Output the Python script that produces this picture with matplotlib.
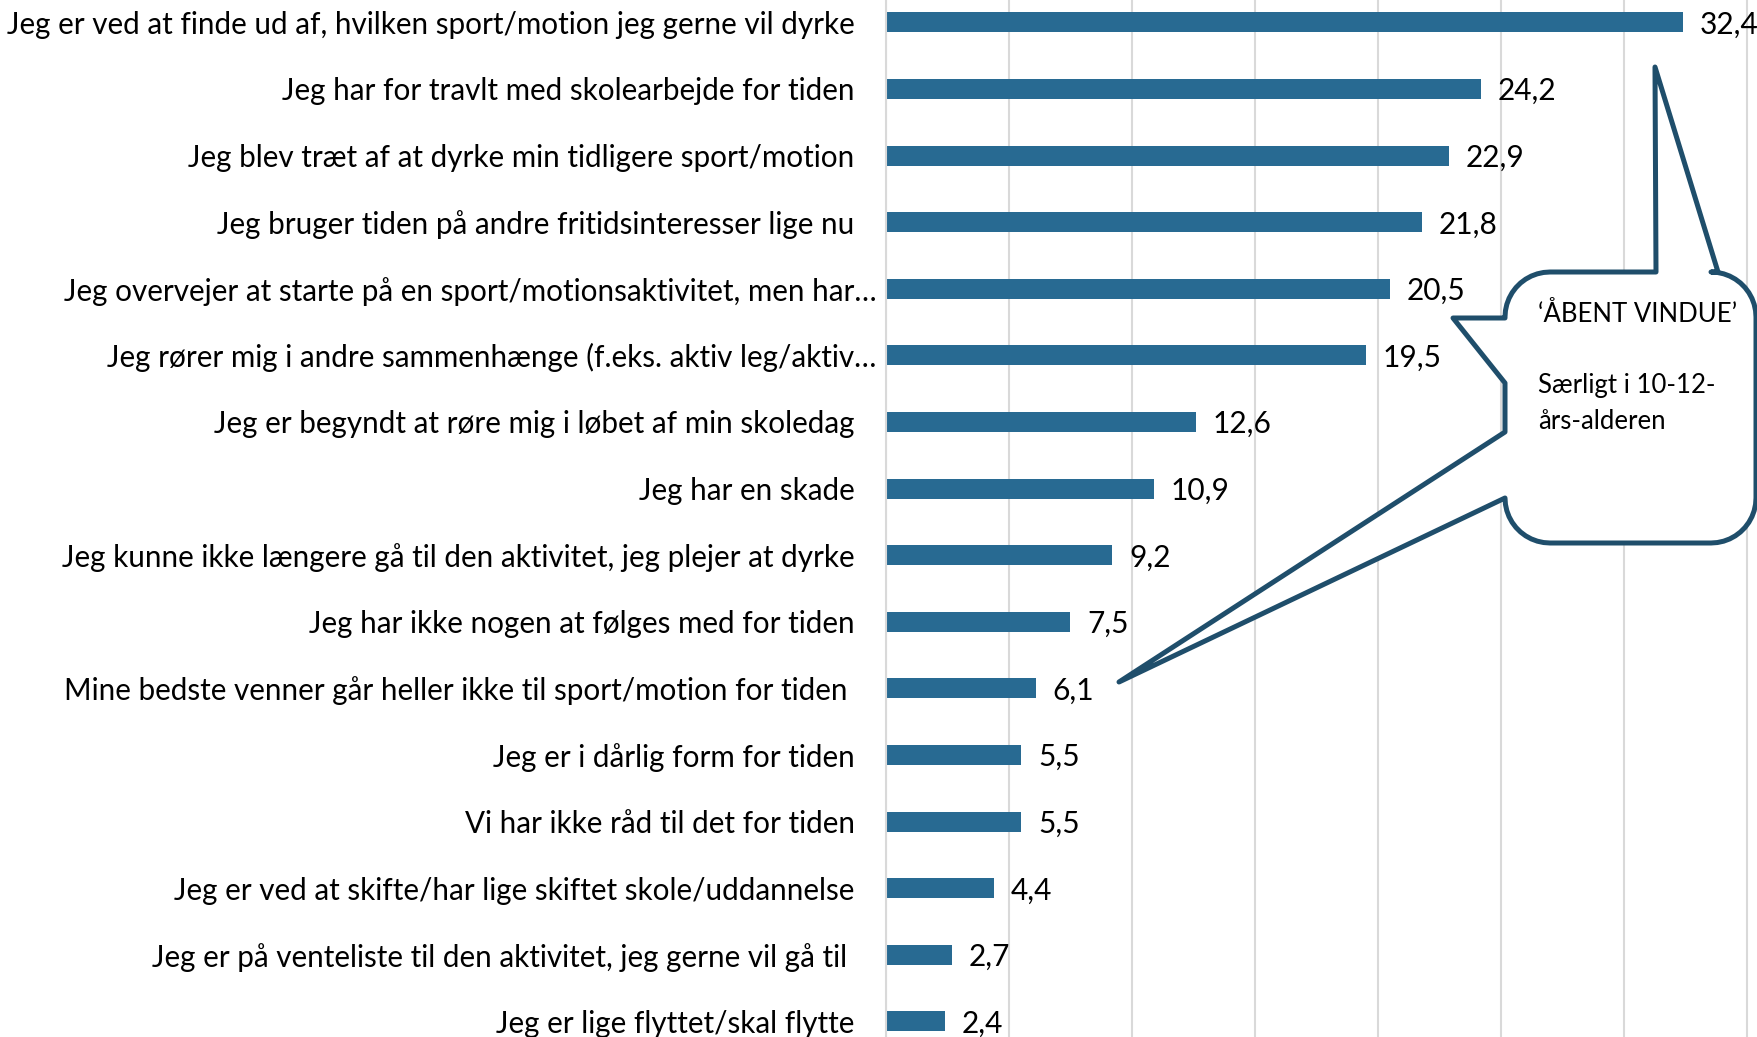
import numpy as np
from matplotlib import pyplot as plt
from matplotlib.path import Path
from matplotlib.patches import PathPatch
import matplotlib.transforms as mtransforms

plt.rcParams['font.family'] = ['Lato', 'DejaVu Sans']

W, H = 1758, 1037

categories = [
    'Jeg er ved at finde ud af, hvilken sport/motion jeg gerne vil dyrke',
    'Jeg har for travlt med skolearbejde for tiden',
    'Jeg blev træt af at dyrke min tidligere sport/motion',
    'Jeg bruger tiden på andre fritidsinteresser lige nu',
    'Jeg overvejer at starte på en sport/motionsaktivitet, men har…',
    'Jeg rører mig i andre sammenhænge (f.eks. aktiv leg/aktiv…',
    'Jeg er begyndt at røre mig i løbet af min skoledag',
    'Jeg har en skade',
    'Jeg kunne ikke længere gå til den aktivitet, jeg plejer at dyrke',
    'Jeg har ikke nogen at følges med for tiden',
    'Mine bedste venner går heller ikke til sport/motion for tiden ',
    'Jeg er i dårlig form for tiden',
    'Vi har ikke råd til det for tiden',
    'Jeg er ved at skifte/har lige skiftet skole/uddannelse',
    'Jeg er på venteliste til den aktivitet, jeg gerne vil gå til ',
    'Jeg er lige flyttet/skal flytte',
]
values = [32.4, 24.2, 22.9, 21.8, 20.5, 19.5, 12.6, 10.9, 9.2, 7.5, 6.1, 5.5, 5.5, 4.4, 2.7, 2.4]

callout_title = '‘ÅBENT VINDUE’'
callout_lines = ['Særligt i 10-12-', 'års-alderen']

bar_color = '#286A92'
line_color = '#1F4E6B'
grid_color = '#D9D9D9'
fs = 21.3
fs_val = 21.5
fs_box = 18.5

fig = plt.figure(figsize=(W / 100, H / 100), dpi=100)
ax = fig.add_axes([886 / W, 0, 1 - 886 / W, 1])

y = np.arange(len(categories))
ax.barh(y, values, height=0.30, color=bar_color, zorder=2)
ax.set_xlim(0, (W - 886) / 24.6)
ax.set_ylim((H - 22.4) / 66.6, -22.4 / 66.6)

ax.set_xticks(np.arange(0, 40, 5))
ax.xaxis.grid(True, color=grid_color, linewidth=1.5, zorder=0)
ax.tick_params(axis='x', length=0, labelbottom=False)
ax.tick_params(axis='y', length=0, pad=22.5)
for s in ['top', 'right', 'bottom']:
    ax.spines[s].set_visible(False)
ax.spines['left'].set_color(grid_color)
ax.spines['left'].set_linewidth(1.5)

ax.set_yticks(y)
ax.set_yticklabels(categories, fontsize=fs, color='black')
# labels cut off with an ellipsis sit closer to the axis
for lab in ax.get_yticklabels():
    if lab.get_text().endswith('…'):
        lab.set_transform(lab.get_transform() + mtransforms.ScaledTranslation(22 / 100, 0, fig.dpi_scale_trans))

for yi, v in zip(y, values):
    ax.annotate(f'{v:.1f}'.replace('.', ','), (v, yi), xytext=(12, -1.5), textcoords='offset points',
                va='center', ha='left', fontsize=fs_val, color='black')

# speech bubble, drawn in figure pixels (y down)
L, R, T, B, r = 1505, 1756, 272, 543, 45


def arc(cx, cy, a0, a1):
    t = np.linspace(a0, a1, 12)
    return list(zip(cx + r * np.cos(t), cy + r * np.sin(t)))


pts = [(L + r, T), (1656, T), (1655, 67), (1718, T), (R - r, T)]
pts += arc(R - r, T + r, 1.5 * np.pi, 2 * np.pi)
pts += [(R, B - r)]
pts += arc(R - r, B - r, 0, 0.5 * np.pi)
pts += [(L + r, B)]
pts += arc(L + r, B - r, 0.5 * np.pi, np.pi)
pts += [(L, 498), (1119, 682), (L, 432), (L, 383), (1453, 318), (L, 318)]
pts += arc(L + r, T + r, np.pi, 1.5 * np.pi)
pts += [(L + r, T)]
codes = [Path.MOVETO] + [Path.LINETO] * (len(pts) - 2) + [Path.CLOSEPOLY]
pix = mtransforms.Affine2D().scale(1 / W, -1 / H).translate(0, 1) + fig.transFigure
bubble = PathPatch(Path(pts, codes), facecolor='white', edgecolor=line_color, linewidth=3.6,
                   joinstyle='round', transform=pix, zorder=5)
fig.add_artist(bubble)

fig.text(1538 / W, 1 - 314 / H, callout_title, fontsize=fs_box, va='center', ha='left', zorder=6)
fig.text(1538 / W, 1 - 386 / H, callout_lines[0], fontsize=fs_box, va='center', ha='left', zorder=6)
fig.text(1538 / W, 1 - 421 / H, callout_lines[1], fontsize=fs_box, va='center', ha='left', zorder=6)

fig.savefig('out.png', dpi=100)
